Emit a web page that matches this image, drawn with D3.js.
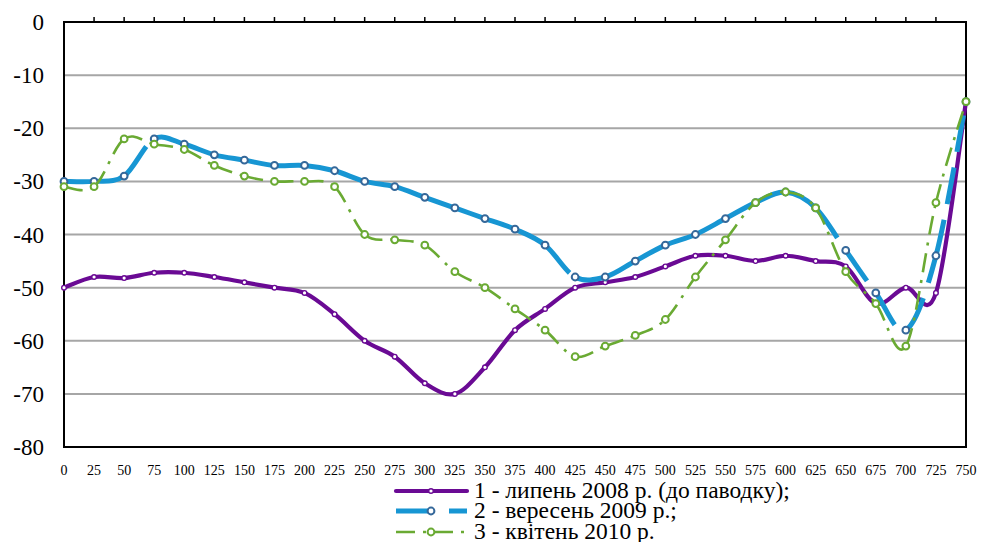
<!DOCTYPE html>
<html><head><meta charset="utf-8">
<script src="https://cdn.jsdelivr.net/npm/d3@7"></script>
<style>body{margin:0;background:#fff} svg text{font-family:"Liberation Serif","Times New Roman","DejaVu Serif",serif;}</style>
</head><body><svg id="c" width="981" height="542"></svg>
<script>
const distances = [0,25,50,75,100,125,150,175,200,225,250,275,300,325,350,375,400,425,450,475,500,525,550,575,600,625,650,675,700,725,750];
const series1 = [-50,-48,-48.2,-47.2,-47.2,-48,-49,-50,-51,-55,-60,-63,-68,-70,-65,-58,-54,-50,-49,-48,-46,-44,-44,-45,-44,-45,-46,-53,-50,-51,-15];
const series2 = [-30,-30,-29,-22,-23,-25,-26,-27,-27,-28,-30,-31,-33,-35,-37,-39,-42,-48,-48,-45,-42,-40,-37,-34,-32,-35,-43,-51,-58,-44,-15];
const series3 = [-31,-31,-22,-23,-24,-27,-29,-30,-30,-31,-40,-41,-42,-47,-50,-54,-58,-63,-61,-59,-56,-48,-41,-34,-32,-35,-47,-53,-61,-34,-15];
const seriesNames = ["1 - липень 2008 р. (до паводку);", "2 - вересень 2009 р.;", "3 - квітень 2010 р."];
const yTicks = [0,-10,-20,-30,-40,-50,-60,-70,-80];

const svg = d3.select("#c");
const x = d3.scaleLinear().domain([0,750]).range([64,966]);
const y = d3.scaleLinear().domain([-80,0]).range([447,22]);

svg.append("g").selectAll("line").data(yTicks.filter(v=>v!==0 && v!==-80)).join("line")
  .attr("x1",x(0)).attr("x2",x(750)).attr("y1",d=>y(d)).attr("y2",d=>y(d))
  .attr("stroke","#a6a6a6").attr("stroke-width",2);

svg.append("rect").attr("x",x(0)).attr("y",y(0)).attr("width",x(750)-x(0)).attr("height",y(-80)-y(0))
  .attr("fill","none").attr("stroke","#000").attr("stroke-width",2);

svg.append("g").selectAll("line").data(distances.slice(1,-1)).join("line")
  .attr("x1",d=>x(d)).attr("x2",d=>x(d)).attr("y1",y(0)).attr("y2",y(0)-5)
  .attr("stroke","#000").attr("stroke-width",1.5);

svg.append("g").selectAll("text").data(yTicks).join("text")
  .attr("x",44).attr("y",d=>y(d)).attr("dy","0.35em").attr("text-anchor","end")
  .attr("font-size",23).text(d=>d);

svg.append("g").selectAll("text").data(distances).join("text")
  .attr("x",d=>x(d)).attr("y",475).attr("text-anchor","middle")
  .attr("font-size",14).text(d=>d);

function segPath(vals, i){
  const P = k => { const kk=Math.max(0,Math.min(vals.length-1,k)); return [x(distances[kk]), y(vals[kk])]; };
  const p0=P(i-1), p1=P(i), p2=P(i+1), p3=P(i+2);
  const t=1/6;
  const c1=[p1[0]+(p2[0]-p0[0])*t, p1[1]+(p2[1]-p0[1])*t];
  const c2=[p2[0]-(p3[0]-p1[0])*t, p2[1]-(p3[1]-p1[1])*t];
  const p=d3.path(); p.moveTo(p1[0],p1[1]); p.bezierCurveTo(c1[0],c1[1],c2[0],c2[1],p2[0],p2[1]);
  return p.toString();
}

const styles = [
  {vals:series1, color:"#6a0a94", width:4.2, dash:null, mStroke:"#6a0a94", r:2.3, mw:1.4},
  {vals:series2, color:"#1796d3", width:5, dash:"37 16", mStroke:"#35689a", r:3.4, mw:2},
  {vals:series3, color:"#6aaa33", width:2.6, dash:"19 8 3 8", mStroke:"#6aaa33", r:3.4, mw:2}
];

styles.forEach(s=>{
  const g=svg.append("g");
  g.selectAll("path").data(d3.range(s.vals.length-1)).join("path")
    .attr("d",i=>segPath(s.vals,i)).attr("fill","none").attr("stroke",s.color)
    .attr("stroke-width",s.width).attr("stroke-dasharray",s.dash)
    .attr("stroke-linecap", s.dash? "butt":"round");
  g.selectAll("circle").data(s.vals).join("circle")
    .attr("cx",(d,i)=>x(distances[i])).attr("cy",d=>y(d)).attr("r",s.r)
    .attr("fill","#fff").attr("stroke",s.mStroke).attr("stroke-width",s.mw);
});

const lg = svg.append("g");
styles.forEach((s,k)=>{
  const cy=[491,511,532][k];
  lg.append("line").attr("x1",396).attr("x2",467).attr("y1",cy).attr("y2",cy)
    .attr("stroke",s.color).attr("stroke-width",s.width).attr("stroke-dasharray",s.dash)
    .attr("stroke-linecap", s.dash? "butt":"round");
  lg.append("circle").attr("cx",431).attr("cy",cy).attr("r",s.r).attr("fill","#fff")
    .attr("stroke",s.mStroke).attr("stroke-width",s.mw);
  lg.append("text").attr("x",474).attr("y",cy+7).attr("font-size",23.5).text(seriesNames[k]);
});
</script></body></html>
